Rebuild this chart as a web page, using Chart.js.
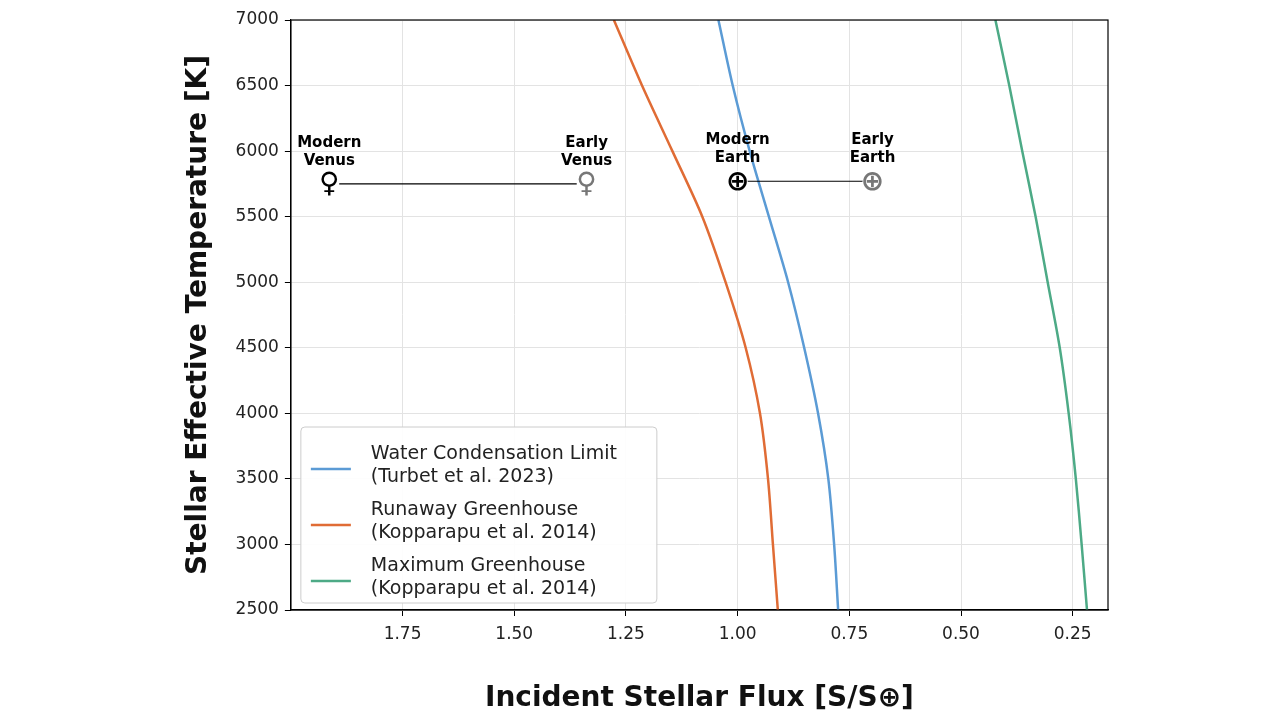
<!DOCTYPE html>
<html><head><meta charset="utf-8">
<script src="https://cdn.jsdelivr.net/npm/chart.js@4"></script>
<style>html,body{margin:0;padding:0;background:#fff}#w{width:1279px;height:720px}</style>
</head><body><div id="w"><canvas id="c"></canvas></div>
<script>
const temps=[7000,6500,6000,5500,5000,4500,4000,3500,3000,2500];
const waterLimit=[1.043,1.011,0.973,0.930,0.887,0.851,0.820,0.797,0.784,0.775];
const runaway=[1.277,1.214,1.146,1.079,1.027,0.982,0.950,0.932,0.921,0.910];
const maxGreen=[0.423,0.392,0.363,0.333,0.306,0.279,0.259,0.243,0.230,0.218];
const xTicks=[1.75,1.50,1.25,1.00,0.75,0.50,0.25];
const planetNames=["Modern\nVenus","Early\nVenus","Modern\nEarth","Early\nEarth"];
const planetFlux=[1.914,1.338,1.0,0.698];
const planetTemp=[5750,5750,5770,5770];
const planetSym=["♀","♀","⊕","⊕"];
const planetCol=["#000","#777","#000","#777"];

const pts=(xs)=>xs.map((x,i)=>({x:x,y:temps[i]}));
const planets={id:'planets',afterDatasetsDraw(ch){
  const c=ch.ctx,xs=ch.scales.x,ys=ch.scales.y,a=ch.chartArea;c.save();
  c.strokeStyle='#000';c.lineWidth=1.2;c.strokeRect(a.left,a.top,a.right-a.left,a.bottom-a.top);
  [[0,1],[2,3]].forEach(([p,q])=>{c.beginPath();c.moveTo(xs.getPixelForValue(planetFlux[p]),ys.getPixelForValue(planetTemp[p]));c.lineTo(xs.getPixelForValue(planetFlux[q]),ys.getPixelForValue(planetTemp[q]));c.stroke();});
  planetFlux.forEach((f,i)=>{const px=xs.getPixelForValue(f),py=ys.getPixelForValue(planetTemp[i]);
    c.fillStyle='#fff';c.beginPath();c.arc(px,py,10,0,7);c.fill();
    c.fillStyle=planetCol[i];c.font='bold 28px "DejaVu Sans"';c.textAlign='center';c.textBaseline='middle';c.fillText(planetSym[i],px,py+1);
    c.fillStyle='#000';c.font='bold 15px "DejaVu Sans"';c.textBaseline='alphabetic';
    const l=planetNames[i].split('\n');c.fillText(l[0],px,py-37);c.fillText(l[1],px,py-19);});
  const lx=a.left+10,ly=a.bottom-183;
  c.fillStyle='rgba(255,255,255,0.9)';c.strokeStyle='#ccc';c.lineWidth=1;
  c.beginPath();c.roundRect(lx,ly,356,176,4);c.fill();c.stroke();
  const items=[["#5b9bd5","Water Condensation Limit","(Turbet et al. 2023)"],["#e06c35","Runaway Greenhouse","(Kopparapu et al. 2014)"],["#4daa86","Maximum Greenhouse","(Kopparapu et al. 2014)"]];
  c.font='19px "DejaVu Sans"';c.textAlign='left';
  items.forEach((it,k)=>{const y=ly+16+k*56;c.strokeStyle=it[0];c.lineWidth=2.5;c.beginPath();c.moveTo(lx+10,y+26);c.lineTo(lx+50,y+26);c.stroke();
    c.fillStyle='#222';c.fillText(it[1],lx+70,y+16);c.fillText(it[2],lx+70,y+39);});
  c.restore();}};
new Chart(document.getElementById('c'),{type:'scatter',
 data:{datasets:[
  {data:pts(waterLimit),borderColor:'#5b9bd5',showLine:true,pointRadius:0,borderWidth:2.5,tension:0.3},
  {data:pts(runaway),borderColor:'#e06c35',showLine:true,pointRadius:0,borderWidth:2.5,tension:0.3},
  {data:pts(maxGreen),borderColor:'#4daa86',showLine:true,pointRadius:0,borderWidth:2.5,tension:0.3}]},
 options:{responsive:true,maintainAspectRatio:false,animation:false,
  layout:{padding:{left:178,right:171,top:20,bottom:0}},
  plugins:{legend:{display:false},tooltip:{enabled:false}},
  scales:{
   x:{type:'linear',reverse:true,min:0.171,max:2.0,
    afterBuildTicks:(s)=>{s.ticks=xTicks.map(v=>({value:v}));},
    ticks:{callback:v=>v.toFixed(2),color:'#222',font:{size:17,family:'DejaVu Sans'},padding:8},
    grid:{color:'#e3e3e3',tickColor:'#000',tickLength:6},border:{color:'#000',width:1.2},
    title:{display:true,text:'Incident Stellar Flux [S/S⊕]',color:'#111',font:{size:28,weight:'bold',family:'DejaVu Sans'},padding:{top:30}}},
   y:{min:2500,max:7000,
    afterBuildTicks:(s)=>{s.ticks=[];for(let v=2500;v<=7000;v+=500)s.ticks.push({value:v});},
    ticks:{callback:v=>String(v),color:'#222',font:{size:17,family:'DejaVu Sans'},padding:6},
    grid:{color:'#e3e3e3',tickColor:'#000',tickLength:6},border:{color:'#000',width:1.2},
    title:{display:true,text:'Stellar Effective Temperature [K]',color:'#111',font:{size:28,weight:'bold',family:'DejaVu Sans'},padding:{bottom:14}}}}},
 plugins:[planets]});
</script></body></html>
